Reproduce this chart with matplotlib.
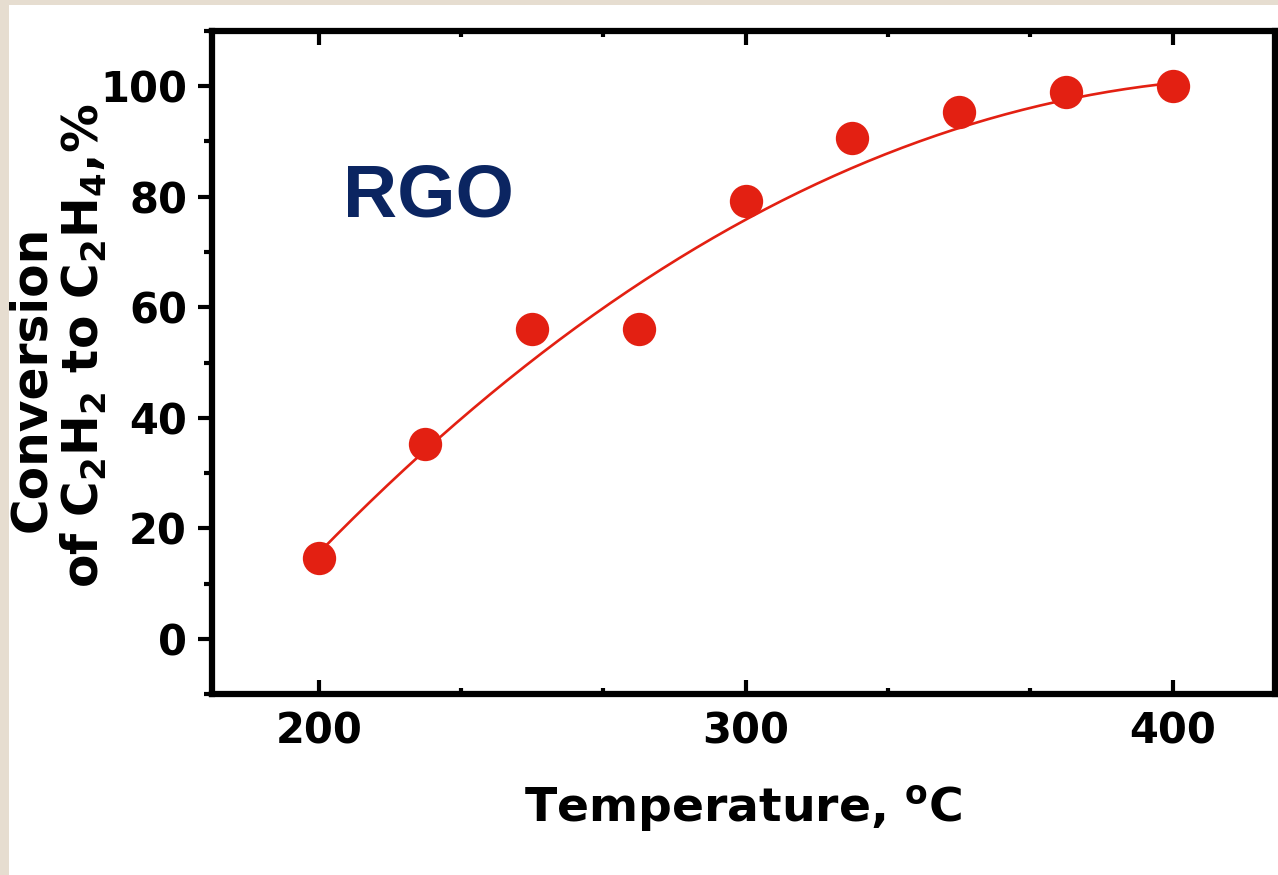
"""RGO conversion of C2H2 to C2H4 versus temperature."""

import matplotlib.pyplot as plt
import numpy as np
from matplotlib.patches import Rectangle
from matplotlib.ticker import AutoMinorLocator, MultipleLocator

plt.rcParams["font.family"] = ["DejaVu Sans"]
plt.rcParams["font.weight"] = "bold"
plt.rcParams["mathtext.fontset"] = "dejavusans"
plt.rcParams["mathtext.default"] = "bf"

temperature = [200, 225, 250, 275, 300, 325, 350, 375, 400]
conversion = [14.6, 35.2, 56.0, 56.1, 79.2, 90.6, 95.3, 98.9, 100.0]
# trend line as drawn in the figure, read at the same temperatures
trend = [14.8, 35.0, 51.8, 62.6, 75.2, 85.2, 93.0, 98.3, 100.0]
x_ticks = [200, 300, 400]
y_ticks = [0, 20, 40, 60, 80, 100]

red = "#e32012"
navy = "#0b2561"
W, H = 1278, 875

fig = plt.figure(figsize=(W / 100, H / 100), dpi=100)
fig.patch.set_facecolor("#e6ddd0")
fig.add_artist(Rectangle((9 / W, 0), 1, 1 - 5 / H, transform=fig.transFigure,
                         facecolor="white", edgecolor="none", zorder=0))

ax = fig.add_axes([212 / W, 181 / H, 1063 / W, 663 / H])
ax.set_facecolor("white")

# smooth the trend readings with a cubic
coef = np.polyfit(temperature, trend, 3)
xs = np.linspace(temperature[0], temperature[-1], 200)
ax.plot(xs, np.polyval(coef, xs), color=red, lw=1.9, zorder=2)
ax.plot(temperature, conversion, "o", color=red, ms=24, mec="none", zorder=3)

ax.set_xlim(175, 424)
ax.set_ylim(-10, 110)
ax.set_xticks(x_ticks)
ax.set_yticks(y_ticks)
ax.xaxis.set_minor_locator(AutoMinorLocator(3))
ax.yaxis.set_minor_locator(MultipleLocator(10))

for side in ax.spines.values():
    side.set_linewidth(4.5)
ax.tick_params(axis="x", which="major", direction="in", top=True, length=10, width=3,
               labelsize=30, pad=12)
ax.tick_params(axis="x", which="minor", direction="in", top=True, length=4.5, width=3)
ax.tick_params(axis="y", which="major", direction="out", right=False, length=10, width=3,
               labelsize=30, pad=8)
ax.tick_params(axis="y", which="minor", direction="out", right=False, length=6, width=3)

ax.set_xlabel("Temperature, $^{\\mathbf{o}}$C", fontsize=34, fontweight="bold", labelpad=22)

# two-line y label, each line placed on its own
fig.text(31.5 / W, 1 - 379 / H, "Conversion", rotation=90, fontsize=35,
         fontweight="bold", ha="center", va="center")
fig.text(83.5 / W, 1 - 346 / H, "of C$_2$H$_2$ to C$_2$H$_4$,%", rotation=90, fontsize=35,
         fontweight="bold", ha="center", va="center")

ax.text(0.123, 0.75, "RGO", transform=ax.transAxes, color=navy, fontsize=54,
        fontweight="bold", family="Liberation Sans", va="center", ha="left")

fig.savefig("out.png", dpi=100, facecolor=fig.get_facecolor())
